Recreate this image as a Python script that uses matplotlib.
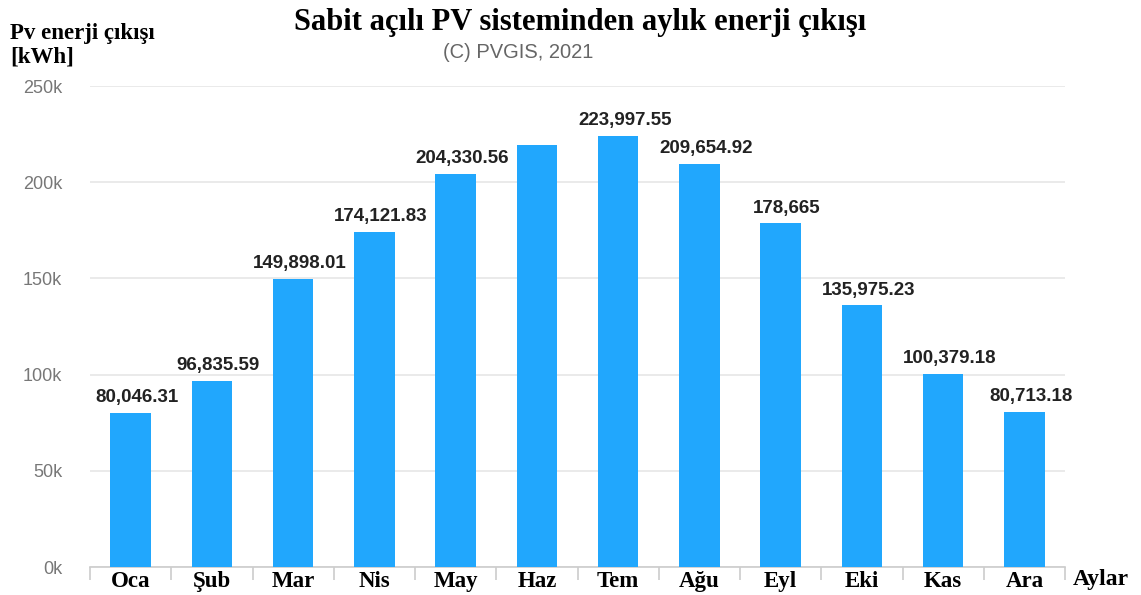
import matplotlib.pyplot as plt
import numpy as np

months = ["Oca", "Şub", "Mar", "Nis", "May", "Haz", "Tem", "Ağu", "Eyl", "Eki", "Kas", "Ara"]
energy = [80046.31, 96835.59, 149898.01, 174121.83, 204330.56, 219400.0,
          223997.55, 209654.92, 178665, 135975.23, 100379.18, 80713.18]
labels = ["80,046.31", "96,835.59", "149,898.01", "174,121.83", "204,330.56", "",
          "223,997.55", "209,654.92", "178,665", "135,975.23", "100,379.18", "80,713.18"]
yticks = [0, 50000, 100000, 150000, 200000, 250000]
ytick_labels = ["0k", "50k", "100k", "150k", "200k", "250k"]

fig = plt.figure(figsize=(11.41, 5.95), dpi=100)
ax = fig.add_axes([0.0789, 0.047, 0.8545, 0.8084])

x = np.arange(len(months))
ax.bar(x, energy, width=0.5, color="#21a7fd", zorder=3)

for xi, v, lab in zip(x, energy, labels):
    if lab:
        ax.text(xi + 0.08, v + 3500, lab, ha="center", va="bottom",
                fontsize=13.5, fontweight="bold", color="#222222",
                family="Liberation Sans")

ax.set_xlim(-0.5, 11.5)
ax.set_ylim(0, 250000)
ax.set_yticks(yticks)
ax.set_yticklabels(ytick_labels, fontsize=13, color="#777777", family="Liberation Sans")
ax.tick_params(axis="y", length=0, pad=20)
ax.grid(axis="y", color="#e6e6e6", linewidth=1.2, zorder=0)

ax.set_xticks(x)
ax.set_xticklabels(months, fontsize=16.5, fontweight="bold", family="Liberation Serif")
ax.tick_params(axis="x", which="major", length=0, pad=2.5)
ax.set_xticks(np.arange(-0.5, 12, 1), minor=True)
ax.tick_params(axis="x", which="minor", length=9, color="#cccccc", width=1.2)

for s in ["top", "right", "left"]:
    ax.spines[s].set_visible(False)
ax.spines["bottom"].set_color("#cccccc")
ax.spines["bottom"].set_linewidth(1.2)

fig.text(0.508, 0.963, "Sabit açılı PV sisteminden aylık enerji çıkışı", ha="center", va="center",
         fontsize=22, fontweight="bold", family="Liberation Serif")
fig.text(0.454, 0.912, "(C) PVGIS, 2021", ha="center", va="center",
         fontsize=14.5, color="#666666", family="Liberation Sans")
fig.text(0.009, 0.924, "Pv enerji çıkışı\n[kWh]", ha="left", va="center",
         fontsize=16.5, fontweight="bold", family="Liberation Serif", linespacing=1.15)
fig.text(0.940, 0.026, "Aylar", ha="left", va="center",
         fontsize=17, fontweight="bold", family="Liberation Serif")

fig.savefig("out.png", dpi=100)
